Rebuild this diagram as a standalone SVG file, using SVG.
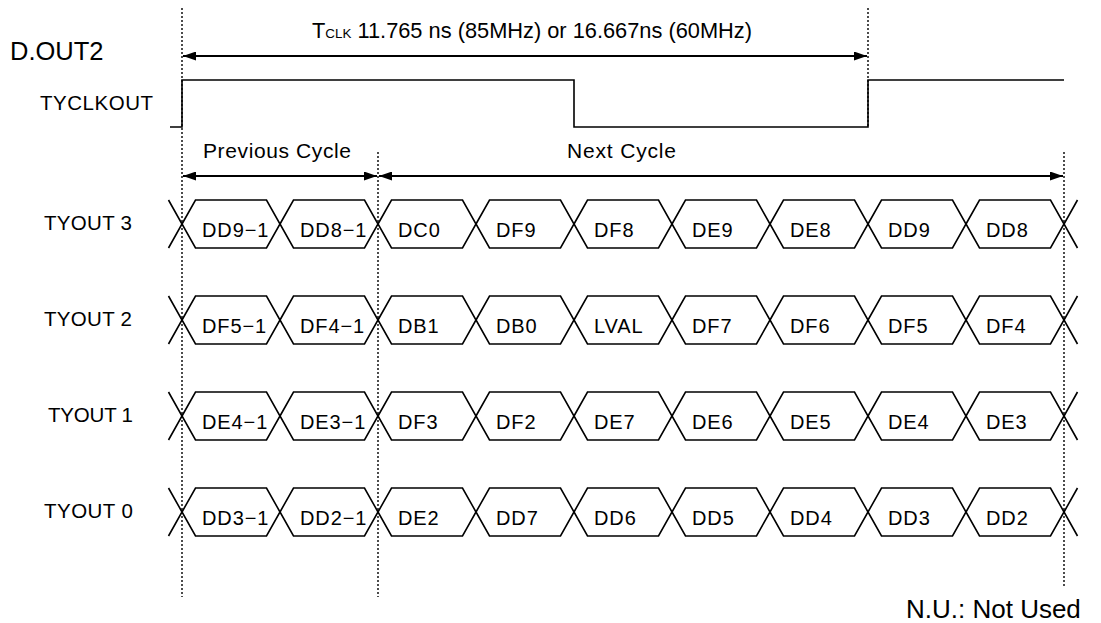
<svg xmlns="http://www.w3.org/2000/svg" xmlns:xlink="http://www.w3.org/1999/xlink" width="1101" height="623" viewBox="0 0 1101 623">
<style>
  text { font-family: "Liberation Sans", Arial, sans-serif; fill: #000; }
  .lbl { font-size: 20.5px; }
  .cellt { font-size: 20px; letter-spacing: 0.9px; }
  .big { font-size: 25.5px; }
  .dot { stroke: #000; stroke-width: 1.4; stroke-dasharray: 2 2; fill: none; }
  .wave { stroke: #000; stroke-width: 1.6; fill: none; stroke-linejoin: miter; }
  .arr { stroke: #000; stroke-width: 2.2; fill: none; marker-start: url(#ah); marker-end: url(#ah); }
</style>
<defs>
  <marker id="ah" viewBox="0 0 13 9" refX="13" refY="4.5" markerWidth="13" markerHeight="9" markerUnits="userSpaceOnUse" orient="auto-start-reverse">
    <path d="M0,0 L13,4.5 L0,9 z" fill="#000"/>
  </marker>
  <polygon id="cell" points="0,24 13.5,0 84.5,0 98,24 84.5,48 13.5,48" class="wave"/>
</defs>
<rect width="1101" height="623" fill="#fff"/>

<g id="guides">
  <line class="dot" x1="182" y1="8" x2="182" y2="597"/>
  <line class="dot" x1="378" y1="152" x2="378" y2="597"/>
  <line class="dot" x1="868" y1="8" x2="868" y2="128"/>
  <line class="dot" x1="1064" y1="152" x2="1064" y2="586"/>
</g>

<g id="title">
  <text class="big" x="10" y="60">D.OUT2</text>
</g>

<g id="connectors">
  <line class="arr" x1="183" y1="56" x2="867" y2="56"/>
  <line class="arr" x1="183" y1="176" x2="377" y2="176"/>
  <line class="arr" x1="379" y1="176" x2="1063" y2="176"/>
</g>

<g id="tclk-label">
  <text x="312" y="38" style="font-size:21.8px">T<tspan style="font-size:13.4px">CLK</tspan> 11.765 ns (85MHz) or 16.667ns (60MHz)</text>
</g>

<g id="cycle-labels">
  <text x="203" y="158" style="font-size:21px" textLength="148" lengthAdjust="spacing">Previous Cycle</text>
  <text x="567" y="158" style="font-size:21px" textLength="109" lengthAdjust="spacing">Next Cycle</text>
</g>

<g id="tyclkout">
  <text class="lbl" x="40" y="110" textLength="113" lengthAdjust="spacing">TYCLKOUT</text>
  <polyline class="wave" points="170,127 182,127 182,80 574,80 574,127 868,127 868,80 1064,80"/>
</g>

<g id="tyout3">
  <text class="lbl" x="44" y="230" textLength="88" lengthAdjust="spacing">TYOUT 3</text>
  <path class="wave" d="M168.5,200 L182,224 L168.5,248 M1077.5,200 L1064,224 L1077.5,248"/>
  <use xlink:href="#cell" x="182" y="200"/><use xlink:href="#cell" x="280" y="200"/><use xlink:href="#cell" x="378" y="200"/>
  <use xlink:href="#cell" x="476" y="200"/><use xlink:href="#cell" x="574" y="200"/><use xlink:href="#cell" x="672" y="200"/>
  <use xlink:href="#cell" x="770" y="200"/><use xlink:href="#cell" x="868" y="200"/><use xlink:href="#cell" x="966" y="200"/>
  <text class="cellt" x="202" y="237">DD9−1</text><text class="cellt" x="300" y="237">DD8−1</text><text class="cellt" x="398" y="237">DC0</text>
  <text class="cellt" x="496" y="237">DF9</text><text class="cellt" x="594" y="237">DF8</text><text class="cellt" x="692" y="237">DE9</text>
  <text class="cellt" x="790" y="237">DE8</text><text class="cellt" x="888" y="237">DD9</text><text class="cellt" x="986" y="237">DD8</text>
</g>

<g id="tyout2">
  <text class="lbl" x="44" y="326" textLength="88" lengthAdjust="spacing">TYOUT 2</text>
  <path class="wave" d="M168.5,296 L182,320 L168.5,344 M1077.5,296 L1064,320 L1077.5,344"/>
  <use xlink:href="#cell" x="182" y="296"/><use xlink:href="#cell" x="280" y="296"/><use xlink:href="#cell" x="378" y="296"/>
  <use xlink:href="#cell" x="476" y="296"/><use xlink:href="#cell" x="574" y="296"/><use xlink:href="#cell" x="672" y="296"/>
  <use xlink:href="#cell" x="770" y="296"/><use xlink:href="#cell" x="868" y="296"/><use xlink:href="#cell" x="966" y="296"/>
  <text class="cellt" x="202" y="333">DF5−1</text><text class="cellt" x="300" y="333">DF4−1</text><text class="cellt" x="398" y="333">DB1</text>
  <text class="cellt" x="496" y="333">DB0</text><text class="cellt" x="594" y="333">LVAL</text><text class="cellt" x="692" y="333">DF7</text>
  <text class="cellt" x="790" y="333">DF6</text><text class="cellt" x="888" y="333">DF5</text><text class="cellt" x="986" y="333">DF4</text>
</g>

<g id="tyout1">
  <text class="lbl" x="48" y="422" textLength="85" lengthAdjust="spacing">TYOUT 1</text>
  <path class="wave" d="M168.5,392 L182,416 L168.5,440 M1077.5,392 L1064,416 L1077.5,440"/>
  <use xlink:href="#cell" x="182" y="392"/><use xlink:href="#cell" x="280" y="392"/><use xlink:href="#cell" x="378" y="392"/>
  <use xlink:href="#cell" x="476" y="392"/><use xlink:href="#cell" x="574" y="392"/><use xlink:href="#cell" x="672" y="392"/>
  <use xlink:href="#cell" x="770" y="392"/><use xlink:href="#cell" x="868" y="392"/><use xlink:href="#cell" x="966" y="392"/>
  <text class="cellt" x="202" y="429">DE4−1</text><text class="cellt" x="300" y="429">DE3−1</text><text class="cellt" x="398" y="429">DF3</text>
  <text class="cellt" x="496" y="429">DF2</text><text class="cellt" x="594" y="429">DE7</text><text class="cellt" x="692" y="429">DE6</text>
  <text class="cellt" x="790" y="429">DE5</text><text class="cellt" x="888" y="429">DE4</text><text class="cellt" x="986" y="429">DE3</text>
</g>

<g id="tyout0">
  <text class="lbl" x="44" y="518" textLength="89" lengthAdjust="spacing">TYOUT 0</text>
  <path class="wave" d="M168.5,488 L182,512 L168.5,536 M1077.5,488 L1064,512 L1077.5,536"/>
  <use xlink:href="#cell" x="182" y="488"/><use xlink:href="#cell" x="280" y="488"/><use xlink:href="#cell" x="378" y="488"/>
  <use xlink:href="#cell" x="476" y="488"/><use xlink:href="#cell" x="574" y="488"/><use xlink:href="#cell" x="672" y="488"/>
  <use xlink:href="#cell" x="770" y="488"/><use xlink:href="#cell" x="868" y="488"/><use xlink:href="#cell" x="966" y="488"/>
  <text class="cellt" x="202" y="525">DD3−1</text><text class="cellt" x="300" y="525">DD2−1</text><text class="cellt" x="398" y="525">DE2</text>
  <text class="cellt" x="496" y="525">DD7</text><text class="cellt" x="594" y="525">DD6</text><text class="cellt" x="692" y="525">DD5</text>
  <text class="cellt" x="790" y="525">DD4</text><text class="cellt" x="888" y="525">DD3</text><text class="cellt" x="986" y="525">DD2</text>
</g>

<g id="note">
  <text x="906" y="618" style="font-size:26px">N.U.: Not Used</text>
</g>
</svg>
